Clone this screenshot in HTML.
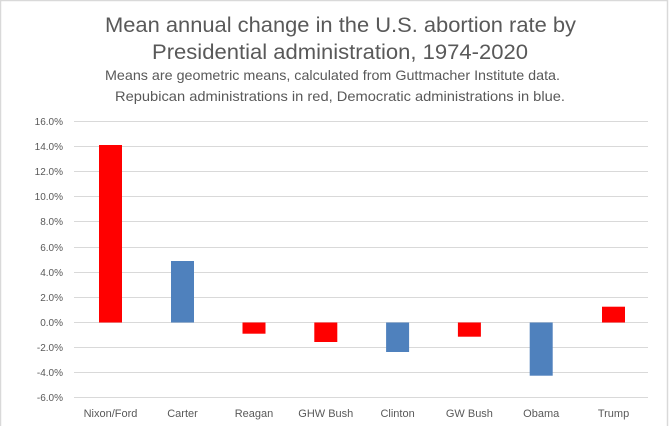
<!DOCTYPE html>
<html><head><meta charset="utf-8"><style>
html,body{margin:0;padding:0;background:#fff;}
svg{display:block;}
text{font-family:"Liberation Sans",sans-serif;fill:#595959;}
</style></head><body>
<svg width="670" height="426" viewBox="0 0 670 426" xmlns="http://www.w3.org/2000/svg">
<rect x="0" y="0" width="670" height="426" fill="#fff"/>
<rect x="0.5" y="0.5" width="667" height="440" fill="none" stroke="#d9d9d9" stroke-width="1.5"/>
<text x="340.5" y="32" font-size="21" text-anchor="middle" textLength="471" lengthAdjust="spacingAndGlyphs">Mean annual change in the U.S. abortion rate by</text>
<text x="340" y="59" font-size="21" text-anchor="middle" textLength="376" lengthAdjust="spacingAndGlyphs">Presidential administration, 1974-2020</text>
<text x="332.5" y="80" font-size="14" text-anchor="middle" textLength="455" lengthAdjust="spacingAndGlyphs">Means are geometric means, calculated from Guttmacher Institute data.</text>
<text x="340" y="101" font-size="14" text-anchor="middle" textLength="450" lengthAdjust="spacingAndGlyphs">Repubican administrations in red, Democratic administrations in blue.</text>
<g stroke="#d9d9d9" stroke-width="1">
<line x1="74" x2="648" y1="121.5" y2="121.5"/>
<line x1="74" x2="648" y1="146.5" y2="146.5"/>
<line x1="74" x2="648" y1="171.5" y2="171.5"/>
<line x1="74" x2="648" y1="196.5" y2="196.5"/>
<line x1="74" x2="648" y1="221.5" y2="221.5"/>
<line x1="74" x2="648" y1="247.5" y2="247.5"/>
<line x1="74" x2="648" y1="272.5" y2="272.5"/>
<line x1="74" x2="648" y1="297.5" y2="297.5"/>
<line x1="74" x2="648" y1="322.5" y2="322.5"/>
<line x1="74" x2="648" y1="347.5" y2="347.5"/>
<line x1="74" x2="648" y1="372.5" y2="372.5"/>
<line x1="74" x2="648" y1="397.5" y2="397.5"/>
</g>
<g font-size="10" text-anchor="end">
<text x="63" y="125">16.0%</text>
<text x="63" y="150">14.0%</text>
<text x="63" y="175">12.0%</text>
<text x="63" y="200">10.0%</text>
<text x="63" y="225">8.0%</text>
<text x="63" y="251">6.0%</text>
<text x="63" y="276">4.0%</text>
<text x="63" y="301">2.0%</text>
<text x="63" y="326">0.0%</text>
<text x="63" y="351">-2.0%</text>
<text x="63" y="376">-4.0%</text>
<text x="63" y="401">-6.0%</text>
</g>
<rect x="99" y="145" width="23" height="177.5" fill="#ff0000"/>
<rect x="171" y="261" width="23" height="61.5" fill="#4f81bd"/>
<rect x="242.5" y="322.5" width="23" height="11.2" fill="#ff0000"/>
<rect x="314.3" y="322.5" width="23" height="19.5" fill="#ff0000"/>
<rect x="386.1" y="322.5" width="23" height="29.5" fill="#4f81bd"/>
<rect x="457.9" y="322.5" width="23" height="14.2" fill="#ff0000"/>
<rect x="529.7" y="322.5" width="23" height="53.2" fill="#4f81bd"/>
<rect x="602" y="306.7" width="23" height="15.8" fill="#ff0000"/>
<g font-size="11" text-anchor="middle">
<text x="110.5" y="417">Nixon/Ford</text>
<text x="182.5" y="417">Carter</text>
<text x="254" y="417">Reagan</text>
<text x="325.8" y="417">GHW Bush</text>
<text x="397.6" y="417">Clinton</text>
<text x="469.4" y="417">GW Bush</text>
<text x="541.2" y="417">Obama</text>
<text x="613.5" y="417">Trump</text>
</g>
</svg>
</body></html>
